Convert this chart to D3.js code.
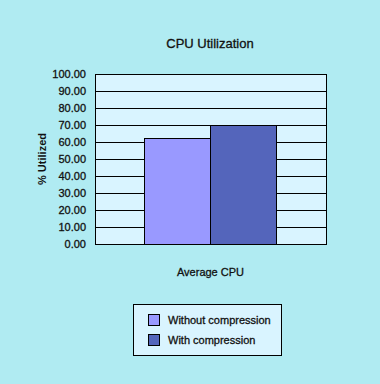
<!DOCTYPE html>
<html><head><meta charset="utf-8">
<script src="https://cdn.jsdelivr.net/npm/d3@7"></script>
<style>body{margin:0;background:#b0ebf2;}svg{display:block;}text{font-family:"Liberation Sans",Arial,sans-serif;fill:#111;stroke:#111;stroke-width:0.3px;}</style>
</head><body>
<script>
const categories = ["Average CPU"];
const seriesNames = ["Without compression", "With compression"];
const seriesValues = [62.2, 69.8];
const seriesColors = ["#9999ff", "#5465bb"];
const yTicks = [0,10,20,30,40,50,60,70,80,90,100];

const W = 380, H = 384;
const svg = d3.select("body").append("svg").attr("width", W).attr("height", H);
svg.append("rect").attr("width", W).attr("height", H).attr("fill", "#b0ebf2");

const L = 95, R = 326, T = 74, B = 244;
const y = d3.scaleLinear().domain([0, 100]).range([B, T]);
const x0 = d3.scaleBand().domain(categories).range([L, R]).paddingInner(0).paddingOuter(0.375);
const x1 = d3.scaleBand().domain(seriesNames).range([0, x0.bandwidth()]);

svg.append("rect").attr("x", L).attr("y", T).attr("width", R - L).attr("height", B - T)
  .attr("fill", "#d9f4ff");

const yAxis = d3.axisLeft(y).tickValues(yTicks).tickFormat(d3.format(".2f")).tickSize(0).tickPadding(9);
const gy = svg.append("g").attr("transform", `translate(${L},0)`).call(yAxis);
gy.select(".domain").remove();
gy.selectAll("text").style("font-size", "11px").style("font-family", "Liberation Sans, Arial, sans-serif").attr("fill", "#111").attr("dy", "0.36em");

svg.append("g").selectAll("line").data(yTicks).join("line")
  .attr("x1", L).attr("x2", R).attr("y1", d => y(d)).attr("y2", d => y(d))
  .attr("stroke", "#000").attr("stroke-width", 1).attr("shape-rendering", "crispEdges");

svg.append("g").selectAll("rect").data(seriesValues).join("rect")
  .attr("x", (d, i) => x0(categories[0]) + x1(seriesNames[i]))
  .attr("y", d => y(d))
  .attr("width", x1.bandwidth())
  .attr("height", d => B - y(d))
  .attr("fill", (d, i) => seriesColors[i])
  .attr("stroke", "#000").attr("stroke-width", 1).attr("shape-rendering", "crispEdges");

svg.append("rect").attr("x", L).attr("y", T).attr("width", R - L).attr("height", B - T)
  .attr("fill", "none").attr("stroke", "#000").attr("stroke-width", 1).attr("shape-rendering", "crispEdges");

svg.append("text").attr("x", 210).attr("y", 48).attr("text-anchor", "middle")
  .style("font-size", "13px").text("CPU Utilization");

svg.append("text").attr("transform", `translate(46,${(T + B) / 2}) rotate(-90)`)
  .attr("text-anchor", "middle").style("font-size", "11px").style("font-weight", "bold").style("stroke-width", "0").text("% Utilized");

svg.append("text").attr("x", x0(categories[0]) + x0.bandwidth() / 2).attr("y", 276)
  .attr("text-anchor", "middle").style("font-size", "11px").text(categories[0]);

const lg = svg.append("g");
lg.append("rect").attr("x", 133.5).attr("y", 304.5).attr("width", 148).attr("height", 51)
  .attr("fill", "#d9f4ff").attr("stroke", "#000").attr("stroke-width", 1);
seriesNames.forEach((n, i) => {
  lg.append("rect").attr("x", 148.5).attr("y", 314.5 + i * 20).attr("width", 11).attr("height", 11)
    .attr("fill", seriesColors[i]).attr("stroke", "#000");
  lg.append("text").attr("x", 168).attr("y", 324 + i * 20).style("font-size", "11px").text(n);
});
</script>
</body></html>
